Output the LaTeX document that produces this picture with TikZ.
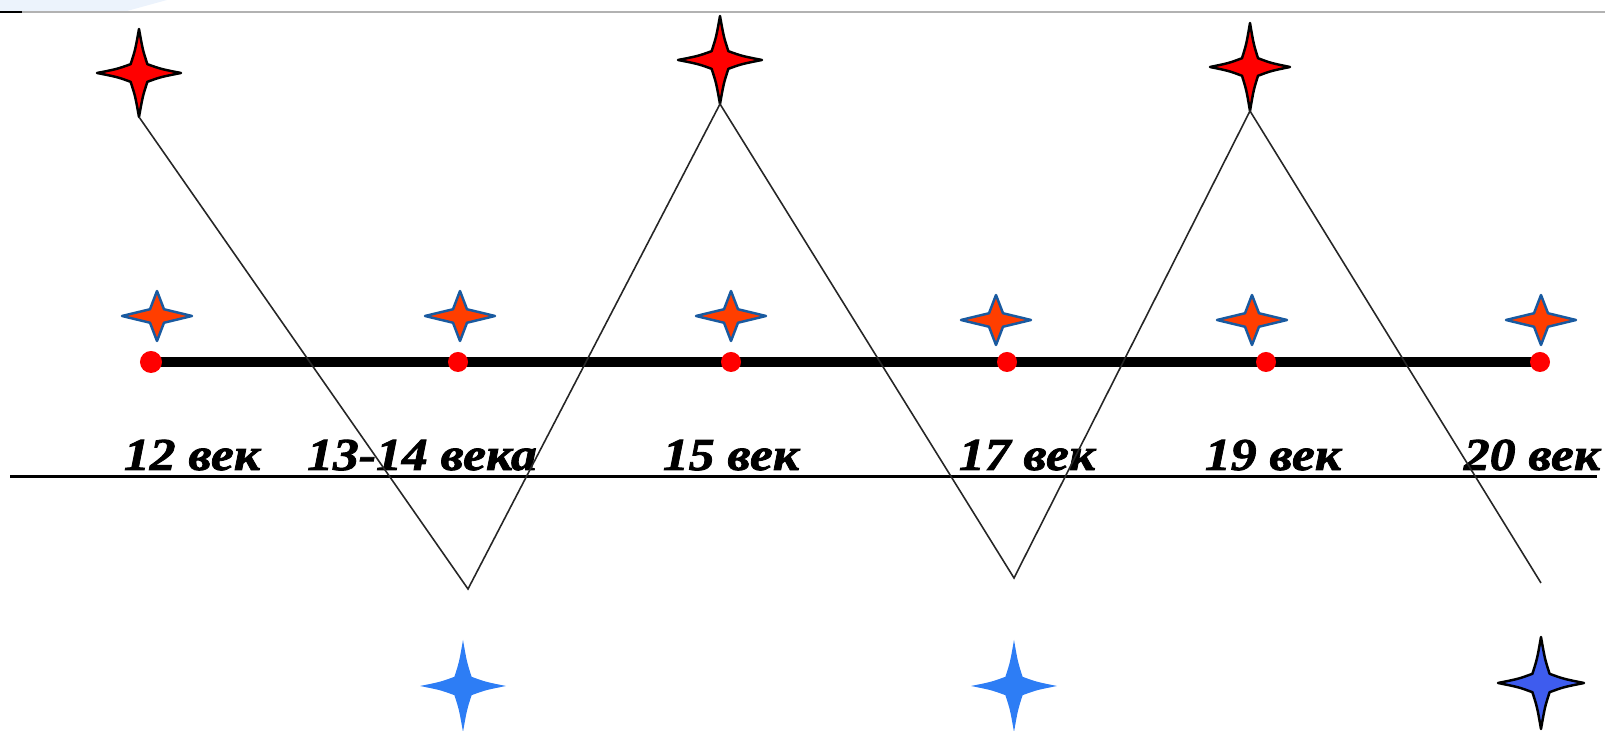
\documentclass[tikz,border=0pt]{standalone}
\usepackage{fontspec}
\setmainfont{Liberation Serif}
\newfontfamily\yrfont{Liberation Serif}[FakeStretch=1.13,FakeBold=1.8]
\usetikzlibrary{positioning}
\definecolor{StarRed}{RGB}{255,0,0}
\definecolor{SparkFill}{RGB}{255,62,0}
\definecolor{SparkEdge}{RGB}{25,90,160}
\definecolor{SkyBlue}{RGB}{45,125,245}
\definecolor{DeepBlue}{RGB}{62,92,238}
\definecolor{PaleBlue}{RGB}{236,243,252}

\begin{document}
\begin{tikzpicture}[x=0.01cm,y=-0.01cm,
spark/.pic={\path[pic actions] (0,-1) .. controls (0.09,-0.52) .. (0.2,-0.2) .. controls (0.52,-0.09) .. (1,0)
 .. controls (0.52,0.09) .. (0.2,0.2) .. controls (0.09,0.52) .. (0,1)
 .. controls (-0.09,0.52) .. (-0.2,0.2) .. controls (-0.52,0.09) .. (-1,0)
 .. controls (-0.52,-0.09) .. (-0.2,-0.2) .. controls (-0.09,-0.52) .. (0,-1) -- cycle;
\coordinate (-tip) at (0,1);},
flatspark/.pic={\path[pic actions] (0,-1) -- (0.2,-0.27) -- (1,0) -- (0.2,0.27) -- (0,1) -- (-0.2,0.27) -- (-1,0) -- (-0.2,-0.27) -- cycle;},
bigstar/.style={fill=StarRed,draw=black,line width=0.7pt,line join=round,xscale=42,yscale=44},
smallstar/.style={fill=SparkFill,draw=SparkEdge,line width=0.7pt,line join=round,xscale=35,yscale=25},
bluestar/.style={fill=SkyBlue,line join=round,xscale=43,yscale=46},
dot/.style={circle,fill=StarRed,inner sep=0pt,minimum size=0.2cm},
bar/.style={line width=3pt,black},
zig/.style={line width=0.45pt,black!85},
yr/.style={anchor=base,inner sep=0pt,font=\yrfont\fontsize{13}{15}\selectfont\bfseries\itshape}
]
\useasboundingbox (0,0) rectangle (1605,731);
\fill[PaleBlue] (0,0) -- (167,0) -- (127,11) -- (0,11) -- cycle;
\draw[black!30,line width=0.6pt] (0,12) -- (1605,12);
\draw[black,line width=0.6pt] (0,12) -- (22,12);

% big red stars
\pic[bigstar] (b1) at (139,73) {spark};
\pic[bigstar] (b2) at (720,60) {spark};
\pic[bigstar,xscale=40/42] (b3) at (1250,67) {spark};

% centuries line
\coordinate (p1) at (151,362);
\coordinate (p2) at (458,362);
\coordinate (p3) at (731,362);
\coordinate (p4) at (1007,362);
\coordinate (p5) at (1266,362);
\coordinate (p6) at (1540,362);
\draw[bar] (p1) -- (p6);
\node[dot,minimum size=0.22cm] (d1) at (p1) {};
\node[dot] (d2) at (p2) {};
\node[dot] (d3) at (p3) {};
\node[dot] (d4) at (p4) {};
\node[dot] (d5) at (p5) {};
\node[dot] (d6) at (p6) {};

\pic[smallstar] (s1) at (157,316) {flatspark};
\pic[smallstar] (s2) at (460,316) {flatspark};
\pic[smallstar] (s3) at (731,316) {flatspark};
\pic[smallstar] (s4) at (996,320) {flatspark};
\pic[smallstar] (s5) at (1252,320) {flatspark};
\pic[smallstar] (s6) at (1541,320) {flatspark};

\node[yr] (y12) at (192,470) {12 век};
\node[yr] (y1314) at (422,470) {13-14 века};
\node[yr] (y15) at (731,470) {15 век};
\node[yr] (y17) at (1027,470) {17 век};
\node[yr] (y19) at (1273,470) {19 век};
\node[yr] (y20) at (1532,470) {20 век};
\draw[black,line width=0.85pt] (10,477) -- (1597,477);

% blue stars
\pic[bluestar] (u1) at (463,686) {spark};
\pic[bluestar] (u2) at (1014,686) {spark};
\pic[bluestar,fill=DeepBlue,draw=black,line width=0.7pt] (u3) at (1541,683) {spark};

% zigzag
\coordinate (v2) at (468,589);
\coordinate (v4) at (1014,578);
\coordinate (v6) at (1541,583);
\draw[zig] (b1-tip) -- (v2) -- (b2-tip) -- (v4) -- (b3-tip) -- (v6);
\end{tikzpicture}
\end{document}
